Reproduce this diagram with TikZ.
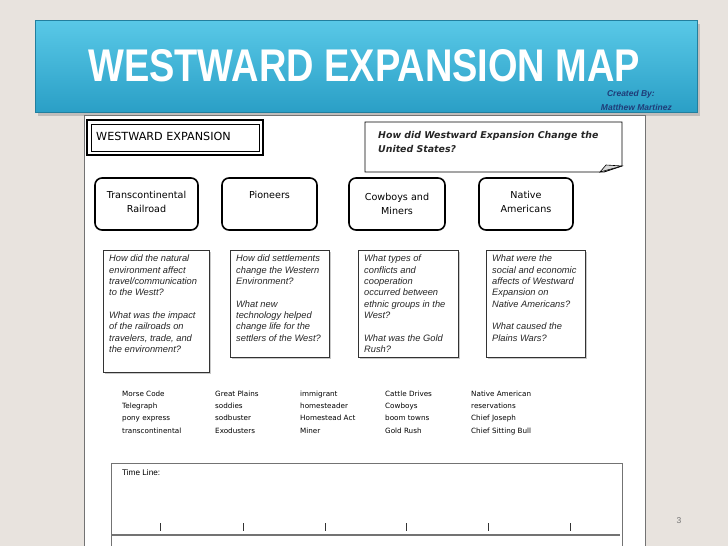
\documentclass[tikz,border=0pt]{standalone}
\usepackage{fontspec}
\usepackage{graphicx}
\setmainfont{Liberation Sans}
\newfontfamily\handfont{DejaVu Sans}
\usetikzlibrary{positioning,shadows}
\definecolor{slidebg}{HTML}{E8E3DE}
\definecolor{bannerblue}{HTML}{3CBFE3}
\definecolor{bannerdark}{HTML}{2A9FC6}
\definecolor{creditblue}{HTML}{1F3C78}
\tikzset{
  topicbox/.style={draw,line width=1.6pt,rounded corners=7pt,minimum height=52pt,inner sep=0pt},
  topiclabel/.style={anchor=north,inner sep=0pt,align=center,font=\handfont\fontsize{9.6}{14.5}\selectfont},
  qbox/.style={draw=black!80,line width=0.6pt,fill=white,drop shadow={shadow xshift=1.5pt,shadow yshift=-1.5pt,fill=black!35,opacity=0.6}},
  qtext/.style={anchor=north west,inner sep=0pt,align=left,font=\itshape\fontsize{9.3}{11.3}\selectfont,text=black!85},
  wordcol/.style={anchor=north west,inner sep=0pt,align=left,font=\handfont\fontsize{7.2}{12.3}\selectfont},
  tick/.style={draw=black!80,line width=0.9pt}
}
\begin{document}
\begin{tikzpicture}[x=1pt,y=-1pt]
\useasboundingbox (0,0) rectangle (728,546);
% slide background
\fill[slidebg] (0,0) rectangle (728,546);
% banner
\fill[black!40,opacity=0.5] (38,24) rectangle (700,116);
\shade[top color=bannerblue!85!white,bottom color=bannerdark,draw=bannerdark!80!black,line width=0.6pt]
  (35,20) rectangle (697,112);
\node[anchor=south west,inner sep=0pt,text=white] (title) at (88,82)
  {\resizebox{552pt}{32pt}{\bfseries WESTWARD EXPANSION MAP}};
\node[anchor=east,inner sep=0pt,text=creditblue,font=\bfseries\itshape\fontsize{8.5}{11}\selectfont] (credit1) at (655,94) {Created By:};
\node[anchor=east,inner sep=0pt,text=creditblue,font=\bfseries\itshape\fontsize{8.5}{11}\selectfont] (credit2) at (672,107) {Matthew Martinez};
% worksheet page
\fill[white] (84,115) rectangle (645,546);
\draw[black!55,line width=0.8pt] (84,546) -- (84,115) -- (645,115) -- (645,546);
% heading box
\draw[line width=1.4pt] (87,120) rectangle (263,155);
\draw[line width=0.5pt] (91,124) rectangle (259,151);
\node[anchor=west,inner sep=0pt,font=\handfont\fontsize{11.2}{13}\selectfont] (heading) at (96,136) {WESTWARD EXPANSION};
% question bubble
\draw[line width=0.8pt,fill=white] (365,122) -- (622,122) -- (622,166) -- (604,172) -- (365,172) -- cycle;
\draw[line width=0.6pt,fill=black!15] (600,172) -- (606,165) -- (622,166) -- cycle;
\node[anchor=north west,inner sep=0pt,align=left,font=\handfont\bfseries\itshape\fontsize{9.4}{14}\selectfont,text=black!85] (bigq) at (378,131)
  {How did Westward Expansion Change the\\United States?};
% topic boxes
\node[topicbox,minimum width=103pt] (rail) at (146.5,204) {};
\node[topiclabel] at (rail.north|-0,191) {Transcontinental\\Railroad};
\node[topicbox,minimum width=95pt] (pioneers) at (269.5,204) {};
\node[topiclabel] at (pioneers.north|-0,191) {Pioneers};
\node[topicbox,minimum width=96pt] (cowboys) at (397,204) {};
\node[topiclabel] at (cowboys.north|-0,193) {Cowboys and\\Miners};
\node[topicbox,minimum width=94pt] (native) at (526,204) {};
\node[topiclabel] at (native.north|-0,191) {Native\\Americans};
% question boxes
\draw[qbox] (103,250) rectangle (209,372);
\draw[qbox] (230,250) rectangle (329,357);
\draw[qbox] (358,250) rectangle (458,357);
\draw[qbox] (486,250) rectangle (585,357);
\node[qtext] (q1) at (109,255) {How did the natural\\environment affect\\travel/communication\\to the Westt?\\[11.3pt]What was the impact\\of the railroads on\\travelers, trade, and\\the environment?};
\node[qtext] (q2) at (236,255) {How did settlements\\change the Western\\Environment?\\[11.3pt]What new\\technology helped\\change life for the\\settlers of the West?};
\node[qtext] (q3) at (364,255) {What types of\\conflicts and\\cooperation\\occurred between\\ethnic groups in the\\West?\\[11.3pt]What was the Gold\\Rush?};
\node[qtext] (q4) at (492,255) {What were the\\social and economic\\affects of Westward\\Expansion on\\Native Americans?\\[11.3pt]What caused the\\Plains Wars?};
% word lists
\node[wordcol] (w1) at (122,390.5) {Morse Code\\Telegraph\\pony express\\transcontinental};
\node[wordcol] (w2) at (215,390.5) {Great Plains\\soddies\\sodbuster\\Exodusters};
\node[wordcol] (w3) at (300,390.5) {immigrant\\homesteader\\Homestead Act\\Miner};
\node[wordcol] (w4) at (385,390.5) {Cattle Drives\\Cowboys\\boom towns\\Gold Rush};
\node[wordcol] (w5) at (471,390.5) {Native American\\reservations\\Chief Joseph\\Chief Sitting Bull};
% time line
\draw[black!55,line width=0.8pt] (111,546) -- (111,463) -- (622,463) -- (622,546);
\node[anchor=north west,inner sep=0pt,font=\fontsize{8.2}{10}\selectfont] (tl) at (122,469) {Time Line:};
\coordinate (tlstart) at (112,535);
\coordinate (tlend) at (620,535);
\draw[black!55,line width=1.8pt] (tlstart) -- (tlend);
\foreach \tx in {160,243,325,406,488,570}
  \draw[tick] (\tx,523) -- (\tx,531);
% slide number
\node[text=black!55,font=\fontsize{8.5}{10}\selectfont] (pagenum) at (679,521) {3};
\end{tikzpicture}
\end{document}
